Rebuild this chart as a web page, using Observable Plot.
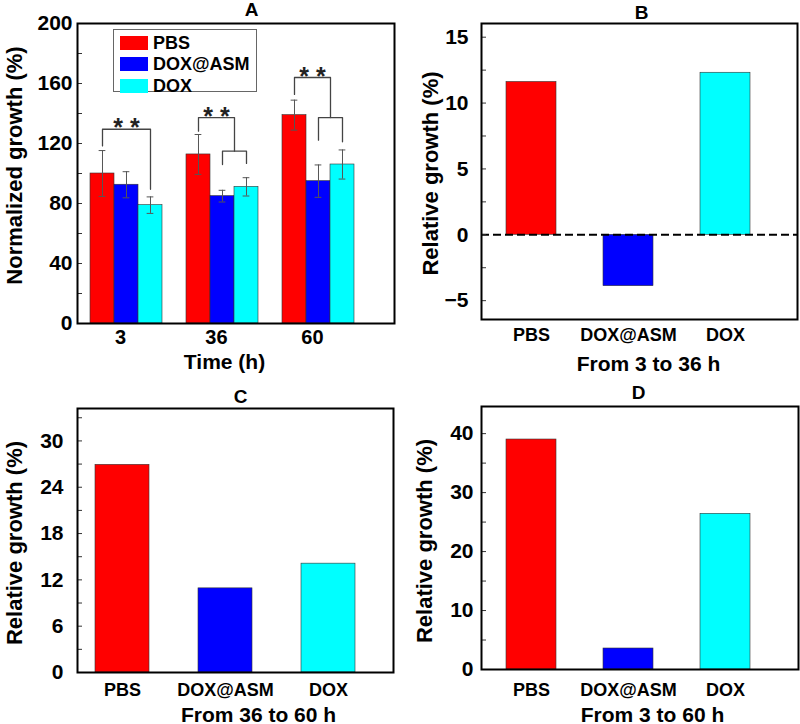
<!DOCTYPE html>
<html>
<head>
<meta charset="utf-8">
<script src="https://cdn.jsdelivr.net/npm/d3@7"></script>
<script src="https://cdn.jsdelivr.net/npm/@observablehq/plot@0.6"></script>
<style>
  body { margin: 0; background: #fff; font-family: "Liberation Sans", Arial, sans-serif; }
  #root { position: relative; width: 800px; height: 724px; overflow: hidden; background: #fff; }
  .panel { position: absolute; }
  .legend { position: absolute; left: 113px; top: 29px; width: 144px; height: 63px; border: 1px solid #666; background: #fff; box-sizing: border-box; }
  .legend .row { position: absolute; left: 6px; height: 14px; display: flex; align-items: center; }
  .legend .sw { width: 28px; height: 14px; margin-right: 5px; }
  .legend .lb { font-size: 18px; font-weight: bold; line-height: 14px; color: #000; }
</style>
</head>
<body>
<div id="root"></div>
<script>
// ---------- data ----------
const groups = ["PBS", "DOX@ASM", "DOX"];
const colors = ["#ff0000", "#0000ff", "#00ffff"];
const times = ["3", "36", "60"];

// Panel A: normalized growth (%) at each time point, with error
const pbsA = [100, 112.7, 138.9];
const doxAsmA = [92.5, 84.9, 94.9];
const doxA = [78.9, 91.1, 106];
const pbsErr = [15.3, 13.3, 10];
const doxAsmErr = [8.7, 3.9, 10.8];
const doxErr = [5.5, 6.1, 9.7];

// significance brackets in panel A (group index, from series, to series, heights)
const bracketTime = [0, 1, 1, 2, 2];
const bracketFrom = [0, 1, 0, 1, 0];
const bracketTo = [2, 2, 1.5, 2, 1.5];
const bracketTop = [129.5, 114.9, 137.3, 137.3, 164];
const bracketLeftEnd = [118.4, 106, 128.2, 122.2, 152.7];
const bracketRightEnd = [89.5, 106.7, 114.9, 121.1, 137.3];
const starLabel = ["* *", null, "* *", null, "* *"];

// Panels B, C, D: relative growth (%)
const growthB = [11.6, -3.9, 12.3];
const growthC = [26.9, 10.9, 14.1];
const growthD = [39.0, 3.56, 26.4];

const yTicksA = [0, 40, 80, 120, 160, 200];
const yTicksB = [-5, 0, 5, 10, 15];
const yTicksC = [0, 6, 12, 18, 24, 30];
const yTicksD = [0, 10, 20, 30, 40];

// ---------- helpers ----------
const FONT = "'Liberation Sans', Arial, Helvetica, sans-serif";
const root = document.getElementById("root");
function place(svg, left, top) {
  const d = document.createElement("div");
  d.className = "panel";
  d.style.left = left + "px";
  d.style.top = top + "px";
  d.appendChild(svg);
  root.appendChild(d);
  return d;
}
const bold = {fontWeight: "bold", fill: "#000"};

// ---------- Panel A ----------
const seriesA = [pbsA, doxAsmA, doxA];
const errA = [pbsErr, doxAsmErr, doxErr];
const rowsA = [];
seriesA.forEach((vals, j) => vals.forEach((v, i) => rowsA.push({ti: i, sj: j, series: groups[j], value: v, err: errA[j][i]})));
const SLOT = 0.25; // width of one bar slot in group units
const posA = (ti, sj) => ti + (sj - 1) * SLOT;

const bracketLines = [];
const stars = [];
bracketTime.forEach((t, k) => {
  const xl = posA(t, bracketFrom[k]), xr = posA(t, bracketTo[k]);
  bracketLines.push({k, x: xl, y: bracketLeftEnd[k]});
  bracketLines.push({k, x: xl, y: bracketTop[k]});
  bracketLines.push({k, x: xr, y: bracketTop[k]});
  bracketLines.push({k, x: xr, y: bracketRightEnd[k]});
  if (starLabel[k]) stars.push({x: (xl + xr) / 2, y: bracketTop[k], label: starLabel[k]});
});

const plotA = Plot.plot({
  width: 400, height: 380,
  marginLeft: 77, marginTop: 23, marginRight: 6, marginBottom: 57,
  style: {fontFamily: FONT, background: "transparent"},
  x: {domain: [-0.5104, 2.7917], axis: null},
  y: {domain: [0, 200], axis: null},
  color: {domain: groups, range: colors},
  marks: [
    Plot.rectY(rowsA, {x1: d => posA(d.ti, d.sj) - SLOT / 2, x2: d => posA(d.ti, d.sj) + SLOT / 2, y1: 0, y2: "value", fill: "series", stroke: "#333", strokeWidth: 0.6}),
    Plot.ruleX(rowsA, {x: d => posA(d.ti, d.sj), y1: d => d.value - d.err, y2: d => d.value + d.err, stroke: "#555", strokeWidth: 1}),
    Plot.ruleY(rowsA, {x1: d => posA(d.ti, d.sj) - 0.035, x2: d => posA(d.ti, d.sj) + 0.035, y: d => d.value + d.err, stroke: "#555", strokeWidth: 1}),
    Plot.ruleY(rowsA, {x1: d => posA(d.ti, d.sj) - 0.035, x2: d => posA(d.ti, d.sj) + 0.035, y: d => d.value - d.err, stroke: "#555", strokeWidth: 1}),
    Plot.line(bracketLines, {x: "x", y: "y", z: "k", stroke: "#444", strokeWidth: 1.3}),
    Plot.text(stars, {x: "x", y: "y", text: "label", fontSize: 25, fontWeight: "bold", fill: "#222", lineAnchor: "middle", dy: -1}),
    Plot.axisY(yTicksA, {tickSize: 0, tickPadding: 5, fontSize: 21, ...bold, label: null}),
    Plot.axisY(d3.range(0, 201, 20), {tickSize: -5, tickFormat: () => "", label: null, stroke: "#333"}),
    Plot.axisX([0, 1, 2], {tickSize: 0, tickPadding: 6, tickFormat: i => times[i], fontSize: 20, ...bold, label: null, dx: -6}),
    Plot.frame({stroke: "#000", strokeWidth: 2}),
    Plot.text(["A"], {frameAnchor: "top", lineAnchor: "bottom", dx: 15.5, dy: -8, fontSize: 19, ...bold}),
    Plot.text(["Time (h)"], {frameAnchor: "bottom", lineAnchor: "bottom", dx: -11.5, dy: 45, fontSize: 21, ...bold}),
    Plot.text(["Normalized growth (%)"], {frameAnchor: "left", rotate: -90, textAnchor: "middle", lineAnchor: "middle", dx: -63, dy: -8, fontSize: 22, ...bold})
  ]
});
place(plotA, 0, 0);

// legend inside panel A
const leg = document.createElement("div");
leg.className = "legend";
const rowTops = [6, 27, 49];
groups.forEach((g, i) => {
  const r = document.createElement("div");
  r.className = "row";
  r.style.top = rowTops[i] + "px";
  const sw = document.createElement("div");
  sw.className = "sw";
  sw.style.background = colors[i];
  const lb = document.createElement("span");
  lb.className = "lb";
  lb.textContent = g;
  r.appendChild(sw); r.appendChild(lb);
  leg.appendChild(r);
});
root.appendChild(leg);

// ---------- Panels B, C, D ----------
function relPanel({values, title, xlabel, yDomain, yTicks, minor, size, margins, xRange, padInner, yPad, xPad, titleDx, titleDy, xlDx, xlDy, ylDx, ylDy, zeroLine}) {
  const rows = groups.map((g, i) => ({series: g, value: values[i]}));
  return Plot.plot({
    width: size[0], height: size[1],
    marginLeft: margins[0], marginTop: margins[1], marginRight: margins[2], marginBottom: margins[3],
    style: {fontFamily: FONT, background: "transparent"},
    x: {type: "band", domain: groups, range: xRange, paddingInner: padInner, paddingOuter: 0, axis: null},
    y: {domain: yDomain, axis: null},
    color: {domain: groups, range: colors},
    marks: [
      Plot.barY(rows, {x: "series", y: "value", fill: "series", stroke: "#333", strokeWidth: 0.6}),
      zeroLine ? Plot.ruleY([0], {stroke: "#000", strokeWidth: 2, strokeDasharray: "8,4"}) : null,
      Plot.axisY(yTicks, {tickSize: 0, tickPadding: yPad, fontSize: 21, ...bold, label: null}),
      Plot.axisY(minor, {tickSize: -5, tickFormat: () => "", label: null, stroke: "#333"}),
      Plot.axisX({tickSize: 0, tickPadding: xPad, fontSize: 18, ...bold, label: null}),
      Plot.frame({stroke: "#000", strokeWidth: 2}),
      Plot.text([title], {frameAnchor: "top", lineAnchor: "bottom", dx: titleDx, dy: titleDy, fontSize: 19, ...bold}),
      Plot.text([xlabel], {frameAnchor: "bottom", lineAnchor: "bottom", dx: xlDx, dy: xlDy, fontSize: 21, ...bold}),
      Plot.text(["Relative growth (%)"], {frameAnchor: "left", rotate: -90, textAnchor: "middle", lineAnchor: "middle", dx: ylDx, dy: ylDy, fontSize: 22, ...bold})
    ]
  });
}

place(relPanel({
  values: growthB, title: "B", xlabel: "From 3 to 36 h",
  yDomain: [-6.43, 16.04], yTicks: yTicksB, minor: d3.range(-5, 15.1, 2.5),
  size: [400, 380], margins: [81, 23, 3, 61], xRange: [106, 350], padInner: 0.485,
  yPad: 13, xPad: 9, titleDx: 2, titleDy: -5, xlDx: 9, xlDy: 51, ylDx: -51, ylDy: 2, zeroLine: true
}), 400, 0);

place(relPanel({
  values: growthC, title: "C", xlabel: "From 36 to 60 h",
  yDomain: [0, 34.2], yTicks: yTicksC, minor: d3.range(0, 34, 3),
  size: [400, 344], margins: [77, 28, 7, 52], xRange: [94, 355], padInner: 0.478,
  yPad: 14, xPad: 11, titleDx: 5, titleDy: -6, xlDx: 23, xlDy: 49, ylDx: -63, ylDy: 2.5, zeroLine: false
}), 0, 380);

place(relPanel({
  values: growthD, title: "D", xlabel: "From 3 to 60 h",
  yDomain: [0, 44.6], yTicks: yTicksD, minor: d3.range(0, 44, 5),
  size: [400, 344], margins: [81, 26, 2, 55], xRange: [106, 350], padInner: 0.485,
  yPad: 8, xPad: 14, titleDx: -1.5, titleDy: -8, xlDx: 12.5, xlDy: 52, ylDx: -57, ylDy: 3, zeroLine: false
}), 400, 380);
</script>
</body>
</html>
